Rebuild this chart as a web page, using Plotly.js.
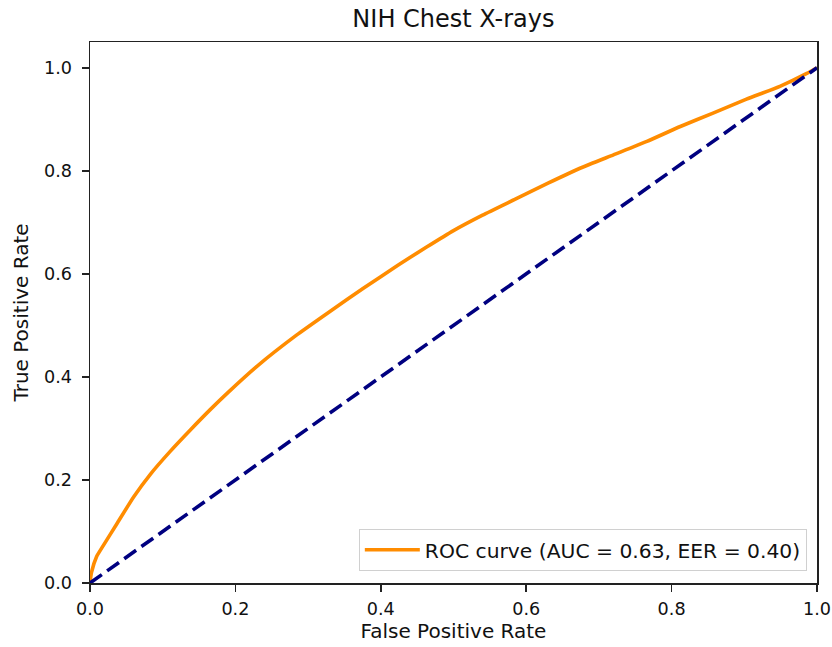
<!DOCTYPE html>
<html>
<head>
<meta charset="utf-8">
<script src="https://cdn.plot.ly/plotly-3.0.1.min.js"></script>
<style>html,body{margin:0;padding:0;background:#fff;}#chart{width:832px;height:647px;}</style>
</head>
<body>
<div id="chart"></div>
<script>
const fpr = [0, 0.002, 0.009, 0.018, 0.037, 0.06, 0.083, 0.11, 0.138, 0.165, 0.19, 0.23, 0.284, 0.33, 0.376, 0.424, 0.463, 0.5, 0.54, 0.585, 0.63, 0.674, 0.72, 0.766, 0.812, 0.857, 0.903, 0.949, 0.986, 1.0];
const tpr = [0, 0.02, 0.051, 0.072, 0.115, 0.167, 0.211, 0.255, 0.297, 0.336, 0.37, 0.421, 0.481, 0.527, 0.572, 0.617, 0.652, 0.684, 0.714, 0.745, 0.776, 0.805, 0.831, 0.857, 0.886, 0.912, 0.939, 0.964, 0.989, 1.0];
const chanceX = [0, 1];
const chanceY = [0, 1];
const tickVals = [0, 0.2, 0.4, 0.6, 0.8, 1.0];
const tickText = ["0.0", "0.2", "0.4", "0.6", "0.8", "1.0"];
const curveName = "ROC curve (AUC = 0.63, EER = 0.40)";
const titleText = "NIH Chest X-rays";

const FAM = "DejaVu Sans, sans-serif";
const tickFont = {family: FAM, size: 17.6, color: "#111"};
const labelFont = {family: FAM, size: 20, color: "#111"};

const traces = [
  {x: fpr, y: tpr, type: "scatter", mode: "lines", name: curveName,
   line: {color: "darkorange", width: 3.6, shape: "spline", smoothing: 0.5}},
  {x: chanceX, y: chanceY, type: "scatter", mode: "lines", showlegend: false,
   line: {color: "navy", width: 3.6, dash: "14.5px,6.5px"}}
];

const axisBase = {
  showline: true, mirror: true, linecolor: "#222", linewidth: 1.5,
  ticks: "outside", ticklen: 7, tickwidth: 1.5, tickcolor: "#222",
  showgrid: false, zeroline: false,
  tickvals: tickVals, ticktext: tickText,
  tickfont: tickFont
};

const layout = {
  width: 832, height: 647,
  margin: {l: 90, r: 15, t: 42, b: 64},
  paper_bgcolor: "#fff", plot_bgcolor: "#fff",
  font: tickFont,
  title: {text: titleText, font: {family: FAM, size: 24, color: "#111"}, x: 0.545, xanchor: "center", y: 0.972, yanchor: "middle"},
  xaxis: Object.assign({}, axisBase, {range: [0, 1.0], ticklabelstandoff: 2, title: {text: "False Positive Rate", font: labelFont, standoff: 5}}),
  yaxis: Object.assign({}, axisBase, {range: [0, 1.05], ticklabelstandoff: 6, title: {text: "True Positive Rate", font: labelFont, standoff: 10}}),
  legend: {x: 0.986, xanchor: "right", y: 0.022, yanchor: "bottom", itemwidth: 55,
    bgcolor: "rgba(255,255,255,0.85)", bordercolor: "#d0d0d0", borderwidth: 1,
    font: {family: FAM, size: 20.3, color: "#111"}},
  showlegend: true
};

Plotly.newPlot("chart", traces, layout, {displayModeBar: false, staticPlot: true});
</script>
</body>
</html>
